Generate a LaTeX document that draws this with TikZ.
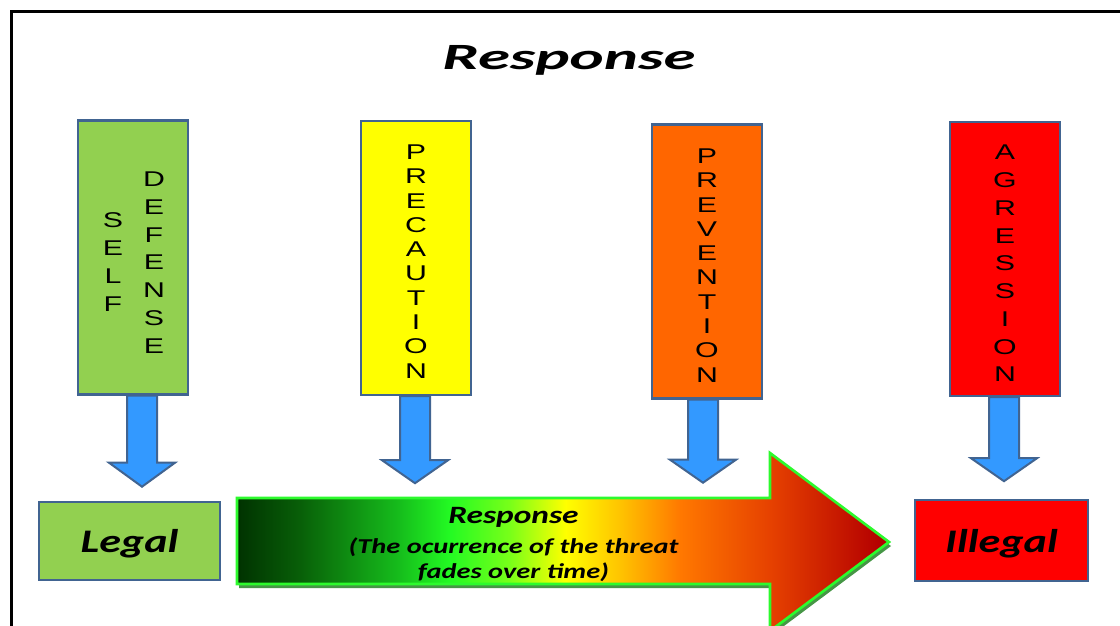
\documentclass[tikz,border=0pt]{standalone}
\usepackage{fontspec}
\usetikzlibrary{calc}
\newfontfamily\calib[FakeStretch=1.34]{Carlito}
\newfontfamily\calibwide[FakeStretch=1.75]{Carlito}
\newfontfamily\arialwide[FakeStretch=1.42]{Liberation Sans}

\definecolor{boxline}{RGB}{65,100,145}
\definecolor{sdgreen}{RGB}{146,208,80}
\definecolor{pcyellow}{RGB}{255,255,0}
\definecolor{pvorange}{RGB}{255,102,0}
\definecolor{agred}{RGB}{255,0,0}
\definecolor{arrowblue}{RGB}{51,153,255}
\definecolor{rimgreen}{RGB}{45,250,45}
\definecolor{shadowgreen}{RGB}{70,150,70}
% colours along the big arrow
\definecolor{fa}{RGB}{0,50,0}
\definecolor{fb}{RGB}{8,95,8}
\definecolor{fc}{RGB}{22,190,28}
\definecolor{fd}{RGB}{35,250,35}
\definecolor{fe}{RGB}{120,255,25}
\definecolor{ff}{RGB}{255,255,0}
\definecolor{fg}{RGB}{255,195,0}
\definecolor{fh}{RGB}{255,120,0}
\definecolor{fi}{RGB}{230,65,0}
\definecolor{fj}{RGB}{180,0,0}
\pgfdeclarehorizontalshading{fadeshade}{100bp}{color(0bp)=(fa); color(25bp)=(fa);
  color(29.8bp)=(fb); color(37.5bp)=(fc); color(41.3bp)=(fd); color(45.9bp)=(fe);
  color(50.2bp)=(ff); color(54.4bp)=(fg); color(59bp)=(fh); color(65.9bp)=(fi);
  color(74.3bp)=(fj); color(100bp)=(fj)}

\tikzset{
  colbox/.style={draw=boxline, line width=1.8pt, minimum width=82.5pt,
    minimum height=205.5pt, inner sep=0pt},
  vword/.style={font=\arialwide\fontsize{16}{#1}\selectfont, align=center, inner sep=0pt},
  endbox/.style={draw=boxline, line width=1.8pt, inner sep=0pt, text depth=0pt,
    font=\calib\bfseries\itshape\fontsize{24.7}{28}\selectfont},
  downarrow/.style={draw=boxline, line width=1.5pt, fill=arrowblue, line join=miter},
}

\begin{document}
\begin{tikzpicture}[x=0.75pt, y=-0.75pt]
  \useasboundingbox (0,0) rectangle (1120,625);
  \clip (0,0) rectangle (1120,625);
  \fill[white] (0,0) rectangle (1120,625);
  \draw[line width=2.6pt] (11.5,11.5) rectangle (1160,660);

  \node[font=\calibwide\bfseries\itshape\fontsize{27.8}{32}\selectfont, anchor=base] (title) at (569,69) {Response};

  \node[colbox, fill=sdgreen] (sd) at (133,257.5) {};
  \node[colbox, fill=pcyellow] (pc) at (416,258) {};
  \node[colbox, fill=pvorange] (pv) at (707,261.5) {};
  \node[colbox, fill=agred] (ag) at (1005,259) {};

  \node[vword=20.8pt] (self) at ($(sd)+(-20,4.5)$) {S\\E\\L\\F};
  \node[vword=20.8pt] (defense) at ($(sd)+(21,5)$) {D\\E\\F\\E\\N\\S\\E};
  \node[vword=18.2pt] (precaution) at ($(pc)+(0,3.5)$) {P\\R\\E\\C\\A\\U\\T\\I\\O\\N};
  \node[vword=18.2pt] (prevention) at ($(pv)+(0,4)$) {P\\R\\E\\V\\E\\N\\T\\I\\O\\N};
  \node[vword=20.8pt] (agression) at ($(ag)+(0,4.5)$) {A\\G\\R\\E\\S\\S\\I\\O\\N};

  \foreach \b/\dx/\len/\head in {sd/9/67/24, pc/-1/64/23, pv/-4/60/23, ag/-1/61/23}
    \draw[downarrow] ($(\b.south)+(\dx-15,0)$) -- ++(0,\len) -- ++(-18,0) -- ++(33,\head)
      -- ++(33,-\head) -- ++(-18,0) -- ++(0,-\len) -- cycle;

  \node[endbox, fill=sdgreen, minimum width=135.75pt, minimum height=58.5pt] (legal) at (129.5,541) {Legal};
  \node[endbox, fill=agred, minimum width=129.75pt, minimum height=60.75pt] (illegal) at (1001.5,540.5) {Illegal};

  % big arrow
  \fill[shadowgreen, shift={(2,4)}] (237,498) -- (770,498) -- (770,453) -- (889,542)
    -- (770,631) -- (770,584) -- (237,584) -- cycle;
  \shadedraw[shading=fadeshade, draw=rimgreen, line width=2pt] (237,498) -- (770,498)
    -- (770,453) -- (889,542) -- (770,631) -- (770,584) -- (237,584) -- cycle;

  \node[font=\calib\bfseries\itshape\fontsize{18.7}{22}\selectfont, anchor=base] (resp) at (513.5,523) {Response};
  \node[font=\calib\bfseries\itshape\fontsize{15.9}{18.75}\selectfont, align=center] (fades) at (513.5,560)
    {(The ocurrence of the threat\\fades over time)};
\end{tikzpicture}
\end{document}
